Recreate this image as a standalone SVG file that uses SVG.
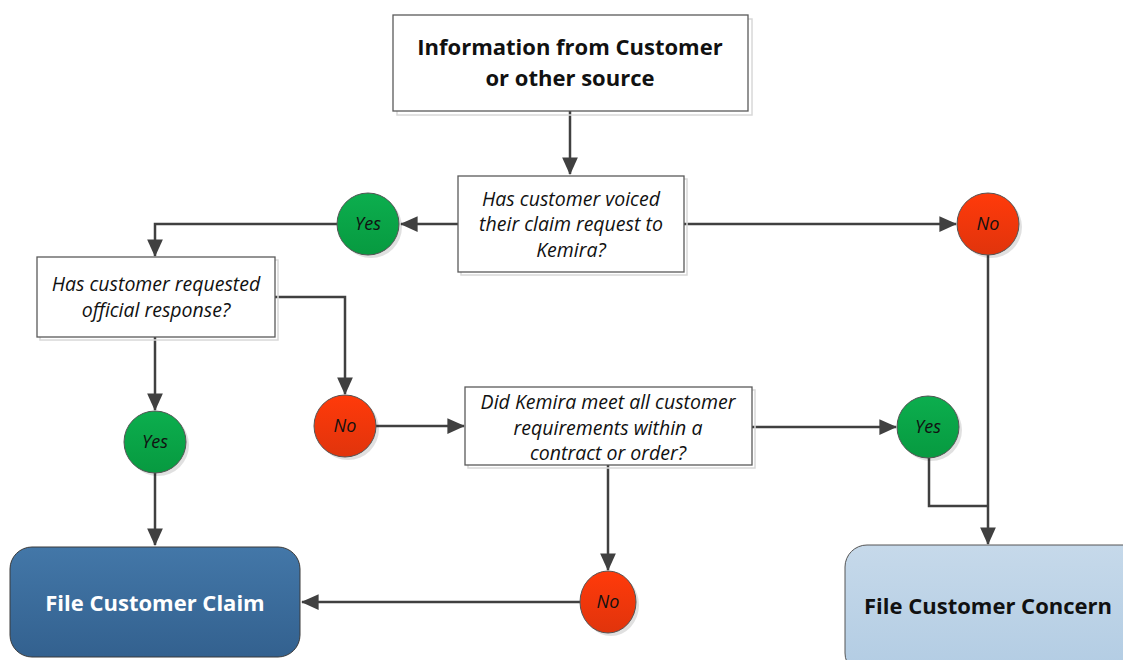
<svg xmlns="http://www.w3.org/2000/svg" width="1123" height="660" viewBox="0 0 1123 660">
<style>
.box{fill:#fff;stroke:#5a5a5a;stroke-width:1.3}
.shadow{fill:none;stroke:#d8d8d8;stroke-width:1.5}
.q{font-family:"Open Sans","Liberation Sans",sans-serif;font-style:italic;font-size:19.5px;fill:#111;text-anchor:middle}
.t{font-family:"Open Sans","Liberation Sans",sans-serif;font-weight:bold;font-size:22px;fill:#111;text-anchor:middle}
.c{font-family:"Open Sans","Liberation Sans",sans-serif;font-style:italic;font-size:18px;fill:#111;text-anchor:middle}
.yes{fill:url(#g);stroke:#555;stroke-width:1}
.no{fill:url(#r);stroke:#555;stroke-width:1}
.cs{fill:#000;opacity:0.12}
.ln{fill:none;stroke:#404040;stroke-width:2.5}
</style>
<defs>
<linearGradient id="g" x1="0" y1="0" x2="0" y2="1"><stop offset="0" stop-color="#0cae4e"/><stop offset="1" stop-color="#079a40"/></linearGradient>
<linearGradient id="r" x1="0" y1="0" x2="0" y2="1"><stop offset="0" stop-color="#ff3a0a"/><stop offset="1" stop-color="#e0340c"/></linearGradient>
<linearGradient id="b" x1="0" y1="0" x2="0" y2="1"><stop offset="0" stop-color="#4377a8"/><stop offset="1" stop-color="#33618f"/></linearGradient>
<linearGradient id="lb" x1="0" y1="0" x2="0" y2="1"><stop offset="0" stop-color="#c6d9ea"/><stop offset="1" stop-color="#b2cce3"/></linearGradient>
<marker id="ah" viewBox="0 0 10 10" refX="9.5" refY="5" markerWidth="7" markerHeight="7" orient="auto"><path d="M0,0.5 L10,5 L0,9.5 Z" fill="#404040"/></marker>
</defs>
<rect width="1123" height="660" fill="#fff"/>

<g id="connectors">
<path class="ln" d="M570,111 V174" marker-end="url(#ah)"/>
<path class="ln" d="M458,224 H401" marker-end="url(#ah)"/>
<path class="ln" d="M337,224 H155 V256" marker-end="url(#ah)"/>
<path class="ln" d="M684,224 H956" marker-end="url(#ah)"/>
<path class="ln" d="M988,255 V544" marker-end="url(#ah)"/>
<path class="ln" d="M275,297 H345 V394" marker-end="url(#ah)"/>
<path class="ln" d="M155,337 V410" marker-end="url(#ah)"/>
<path class="ln" d="M155,473 V545" marker-end="url(#ah)"/>
<path class="ln" d="M376,426 H464" marker-end="url(#ah)"/>
<path class="ln" d="M752,427 H896" marker-end="url(#ah)"/>
<path class="ln" d="M929,458 V506 H988"/>
<path class="ln" d="M608,465 V570" marker-end="url(#ah)"/>
<path class="ln" d="M580,602 H302" marker-end="url(#ah)"/>
</g>

<g id="n-info">
<rect class="shadow" x="397" y="19" width="355" height="96"/>
<rect class="box" x="393" y="15" width="355" height="96"/>
<text class="t" x="570" y="55">Information from Customer</text>
<text class="t" x="570" y="86">or other source</text>
</g>

<g id="n-voiced">
<rect class="shadow" x="461" y="179" width="226" height="96"/>
<rect class="box" x="458" y="176" width="226" height="96"/>
<text class="q" x="571" y="206">Has customer voiced</text>
<text class="q" x="571" y="231">their claim request to</text>
<text class="q" x="571" y="257">Kemira?</text>
</g>

<g id="n-yes1">
<circle class="cs" cx="371" cy="227" r="31"/>
<circle class="yes" cx="368" cy="224" r="31"/>
<text class="c" x="368" y="230">Yes</text>
</g>

<g id="n-no1">
<circle class="cs" cx="991" cy="227" r="31"/>
<circle class="no" cx="988" cy="224" r="31"/>
<text class="c" x="988" y="230">No</text>
</g>

<g id="n-official">
<rect class="shadow" x="40" y="260" width="238" height="80"/>
<rect class="box" x="37" y="257" width="238" height="80"/>
<text class="q" x="156" y="291">Has customer requested</text>
<text class="q" x="156" y="317">official response?</text>
</g>

<g id="n-yes2">
<circle class="cs" cx="158" cy="445" r="31"/>
<circle class="yes" cx="155" cy="442" r="31"/>
<text class="c" x="155" y="448">Yes</text>
</g>

<g id="n-no2">
<circle class="cs" cx="348" cy="429" r="31"/>
<circle class="no" cx="345" cy="426" r="31"/>
<text class="c" x="345" y="432">No</text>
</g>

<g id="n-meet">
<rect class="shadow" x="468" y="390" width="287" height="78"/>
<rect class="box" x="465" y="387" width="287" height="78"/>
<text class="q" x="608" y="409">Did Kemira meet all customer</text>
<text class="q" x="608" y="435">requirements within a</text>
<text class="q" x="608" y="460">contract or order?</text>
</g>

<g id="n-yes3">
<circle class="cs" cx="931" cy="430" r="31"/>
<circle class="yes" cx="928" cy="427" r="31"/>
<text class="c" x="928" y="433">Yes</text>
</g>

<g id="n-no3">
<ellipse class="cs" cx="611" cy="605" rx="28" ry="31"/>
<ellipse class="no" cx="608" cy="602" rx="28" ry="31"/>
<text class="c" x="608" y="608">No</text>
</g>

<g id="n-claim">
<rect x="10" y="547" width="290" height="110" rx="22" fill="url(#b)" stroke="#3a3a3a" stroke-width="1"/>
<text x="155" y="611" font-family="'Open Sans','Liberation Sans',sans-serif" font-weight="bold" font-size="22" fill="#fff" text-anchor="middle">File Customer Claim</text>
</g>

<g id="n-concern">
<rect x="845" y="545" width="300" height="130" rx="22" fill="url(#lb)" stroke="#555" stroke-width="1"/>
<text x="988" y="614" font-family="'Open Sans','Liberation Sans',sans-serif" font-weight="bold" font-size="22" fill="#111" text-anchor="middle">File Customer Concern</text>
</g>
</svg>
